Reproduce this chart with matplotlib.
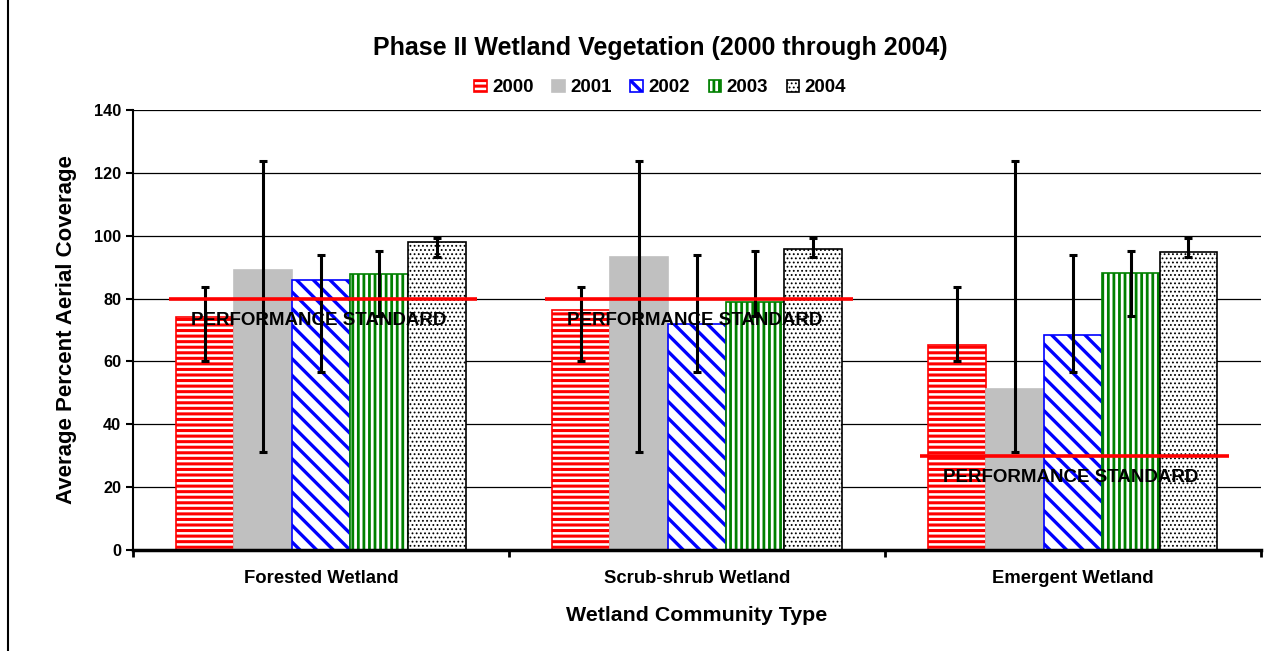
import numpy as np
import matplotlib
matplotlib.use('Agg')
import matplotlib.pyplot as plt
from matplotlib.lines import Line2D

## Data
categories = ['Forested Wetland', 'Scrub-shrub Wetland', 'Emergent Wetland']
years = ['2000', '2001', '2002', '2003', '2004']
# bar heights per year, one value per community type
values = {
    '2000': [74.2, 76.4, 65.2],
    '2001': [89.1, 93.1, 51.1],
    '2002': [85.9, 71.9, 68.3],
    '2003': [87.7, 78.8, 88.0],
    '2004': [97.9, 95.9, 94.9],
}
# error bar ends (low, high), same for every community type
err_low = {'2000': 60.1, '2001': 31.1, '2002': 56.5, '2003': 74.6, '2004': 93.1}
err_high = {'2000': 83.8, '2001': 123.9, '2002': 94.0, '2003': 95.3, '2004': 99.4}
standards = [80, 80, 30]

## Styles
faces = ['white', '#C0C0C0', 'white', 'white', 'white']
edges = ['#FF0000', '#C0C0C0', '#0000FF', '#008000', 'black']
hatches = ['---', None, '\\\\', '|||', '....']
hatch_lw = [2.2, 1.0, 2.4, 2.0, 0.8]

plt.rcParams['font.family'] = ['Liberation Sans', 'DejaVu Sans']
plt.rcParams['font.weight'] = 'bold'
plt.rcParams['hatch.linewidth'] = 2.2

fig = plt.figure(figsize=(12.67, 6.51), dpi=100)
ax = fig.add_axes([0.105, 0.155, 0.89, 0.676])

x = np.arange(len(categories))
width = 0.154
for i, yr in enumerate(years):
    pos = x + (i - 2) * width
    v = np.array(values[yr])
    with plt.rc_context({'hatch.linewidth': hatch_lw[i]}):
        bars = ax.bar(pos, v, width, color=faces[i], edgecolor=edges[i],
                      hatch=hatches[i], linewidth=1.2, label=yr, zorder=2)
    for b in bars:
        if hasattr(b, 'set_hatch_linewidth'):
            b.set_hatch_linewidth(hatch_lw[i])
    lo = v - err_low[yr]
    hi = err_high[yr] - v
    ax.errorbar(pos, v, yerr=[lo, hi], fmt='none', ecolor='black',
                elinewidth=2.2, capsize=3, capthick=2.2, zorder=4)

# performance standard lines
for k, s in enumerate(standards):
    ax.hlines(s, x[k] - 0.405, x[k] + 0.415, colors='#FF0000',
              linewidth=2.6, zorder=5)
    ax.text(x[k] - 0.005, s - 7, 'PERFORMANCE STANDARD', ha='center',
            va='center', fontsize=13.5, fontweight='bold', zorder=6)

ax.set_xlim(-0.5, 2.5)
ax.set_ylim(0, 140)
ax.set_yticks(np.arange(0, 141, 20))
ax.yaxis.grid(True, color='black', linewidth=0.9, zorder=0)
ax.set_axisbelow(True)
ax.set_xticks([-0.5, 0.5, 1.5, 2.5])
ax.set_xticklabels([])
ax.set_xticks(x, minor=True)
ax.set_xticklabels(categories, minor=True, fontsize=13.3, fontweight='bold')
ax.tick_params(axis='x', which='minor', length=0, pad=14)
ax.tick_params(axis='x', which='major', direction='out', length=5, width=2)
ax.tick_params(axis='y', direction='out', length=5, width=1.5, labelsize=11.7)
for lab in ax.get_yticklabels():
    lab.set_fontweight('bold')
ax.spines['top'].set_visible(False)
ax.spines['right'].set_visible(False)
ax.spines['left'].set_linewidth(1.5)
ax.spines['bottom'].set_linewidth(2.5)

ax.set_xlabel('Wetland Community Type', fontsize=15.4, fontweight='bold',
              labelpad=14)
ax.set_ylabel('Average Percent Aerial Coverage', fontsize=16,
              fontweight='bold', labelpad=12)

fig.text(0.521, 0.926, 'Phase II Wetland Vegetation (2000 through 2004)',
         ha='center', va='center', fontsize=18, fontweight='bold')
leg = fig.legend(loc='center', bbox_to_anchor=(0.521, 0.865), ncol=5,
                 frameon=False, fontsize=13.5, handlelength=0.65,
                 handleheight=0.65, handletextpad=0.3, columnspacing=1.0)
for h, lw in zip(leg.legend_handles, hatch_lw):
    if hasattr(h, 'set_hatch_linewidth'):
        h.set_hatch_linewidth(lw)

# page border line on the left
fig.add_artist(Line2D([0.0065, 0.0065], [0, 1], color='black', linewidth=1.5))

fig.savefig('out.png', dpi=100)
